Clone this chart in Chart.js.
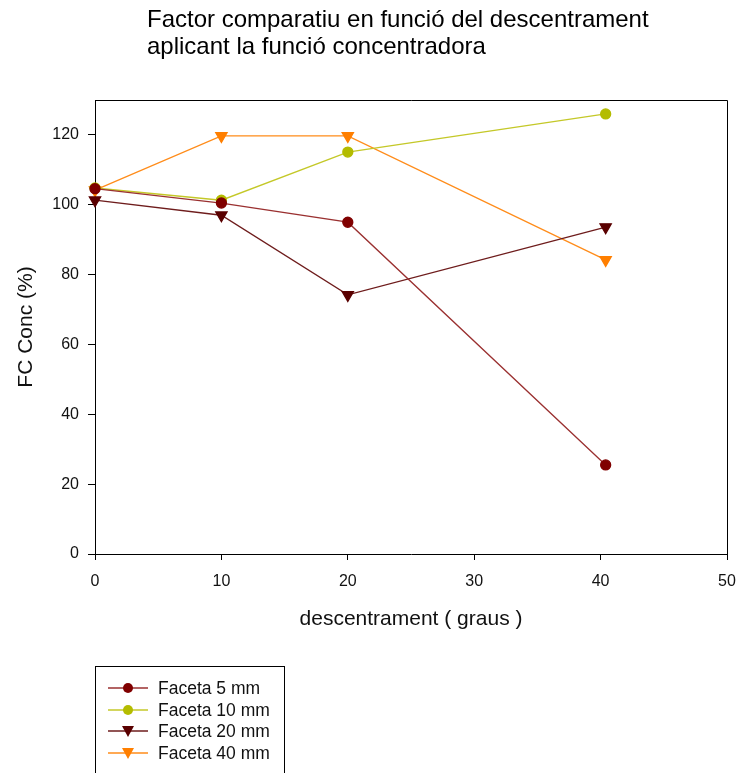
<!DOCTYPE html>
<html>
<head>
<meta charset="utf-8">
<script src="https://cdn.jsdelivr.net/npm/chart.js@4.4.1/dist/chart.umd.min.js"></script>
<style>
  html, body { margin: 0; padding: 0; background: #fff; }
  #wrap { position: relative; width: 737px; height: 773px; }
</style>
</head>
<body>
<div id="wrap"><canvas id="grafic"></canvas></div>
<script>
// dades llegides del gràfic
const graus = [0, 10, 20, 40.4];
const faceta5 = [104.6, 100.5, 95.0, 25.5];
const faceta10 = [104.8, 101.3, 115.1, 126.0];
const faceta20 = [101.3, 97.0, 74.2, 93.6];
const faceta40 = [104.2, 119.7, 119.7, 84.2];
const noms = ['Faceta 5 mm', 'Faceta 10 mm', 'Faceta 20 mm', 'Faceta 40 mm'];
const yTicks = [0, 20, 40, 60, 80, 100, 120];
const xTicks = [0, 10, 20, 30, 40, 50];

const titol = ['Factor comparatiu en funció del descentrament', 'aplicant la funció concentradora'];
const FONT = 'Arial, "Liberation Sans", sans-serif';

function punts(vals) {
  return vals.map((v, i) => ({ x: graus[i], y: v }));
}

function serie(label, vals, line, marker, style) {
  return {
    label: label,
    data: punts(vals),
    borderColor: line,
    backgroundColor: marker,
    pointBackgroundColor: marker,
    pointBorderColor: marker,
    borderWidth: 1.3,
    pointStyle: style,
    pointRotation: style === 'triangle' ? 180 : 0,
    pointRadius: style === 'triangle' ? 6.5 : 5,
    pointHoverRadius: 6,
    tension: 0,
    clip: false
  };
}

// titol, marc i llegenda dibuixats a mà
const extres = {
  id: 'extres',
  afterDraw(chart) {
    const ctx = chart.ctx;
    const a = chart.chartArea;
    ctx.save();
    // marc de l'area
    ctx.strokeStyle = '#000';
    ctx.lineWidth = 1;
    ctx.beginPath();
    ctx.moveTo(a.left, a.top + 0.5);
    ctx.lineTo(a.right + 0.5, a.top + 0.5);
    ctx.lineTo(a.right + 0.5, a.bottom);
    ctx.stroke();

    // titol
    ctx.fillStyle = '#000';
    ctx.font = '24px ' + FONT;
    ctx.textAlign = 'left';
    ctx.textBaseline = 'alphabetic';
    ctx.fillText(titol[0], 147, 27);
    ctx.fillText(titol[1], 147, 54);

    // llegenda
    ctx.strokeStyle = '#000';
    ctx.strokeRect(95.5, 666.5, 189, 140);
    const files = [688, 710, 731, 753];
    chart.data.datasets.forEach((ds, i) => {
      const y = files[i];
      ctx.strokeStyle = ds.borderColor;
      ctx.lineWidth = 1.3;
      ctx.beginPath();
      ctx.moveTo(108, y);
      ctx.lineTo(148, y);
      ctx.stroke();
      ctx.fillStyle = ds.pointBackgroundColor;
      ctx.beginPath();
      if (ds.pointStyle === 'triangle') {
        ctx.moveTo(122, y - 5);
        ctx.lineTo(134, y - 5);
        ctx.lineTo(128, y + 6);
        ctx.closePath();
      } else {
        ctx.arc(128, y, 5, 0, Math.PI * 2);
      }
      ctx.fill();
      ctx.fillStyle = '#111';
      ctx.font = '17.5px ' + FONT;
      ctx.textBaseline = 'middle';
      ctx.fillText(ds.label, 158, y + 1);
    });
    ctx.restore();
  }
};

new Chart(document.getElementById('grafic'), {
  type: 'line',
  data: {
    datasets: [
      serie(noms[0], faceta5, '#9a3030', '#800000', 'circle'),
      serie(noms[1], faceta10, '#c4c828', '#b4bc00', 'circle'),
      serie(noms[2], faceta20, '#6e1c1c', '#5a0000', 'triangle'),
      serie(noms[3], faceta40, '#ff8c1a', '#ff7f00', 'triangle')
    ]
  },
  options: {
    responsive: true,
    maintainAspectRatio: false,
    animation: false,
    layout: {
      padding: { top: 100, right: 0, bottom: 129, left: 0 }
    },
    plugins: {
      legend: { display: false },
      tooltip: { enabled: false },
      title: { display: false }
    },
    scales: {
      x: {
        type: 'linear',
        min: 0,
        max: 50,
        afterFit: (s) => { s.height = 90; s.paddingRight = 10; },
        afterBuildTicks: (s) => { s.ticks = xTicks.map(v => ({ value: v })); },
        ticks: {
          color: '#111',
          font: { family: FONT, size: 16 },
          padding: 12,
          maxRotation: 0
        },
        grid: {
          drawOnChartArea: false,
          drawTicks: true,
          tickLength: 6,
          color: '#000'
        },
        border: { display: true, color: '#000', width: 1 },
        title: {
          display: true,
          text: 'descentrament ( graus )',
          color: '#111',
          font: { family: FONT, size: 21 },
          padding: { top: 12, bottom: 12 }
        }
      },
      y: {
        type: 'linear',
        min: 0,
        max: 130,
        afterFit: (s) => { s.width = 95; },
        afterBuildTicks: (s) => { s.ticks = yTicks.map(v => ({ value: v })); },
        ticks: {
          color: '#111',
          font: { family: FONT, size: 16 },
          padding: 9
        },
        grid: {
          drawOnChartArea: false,
          drawTicks: true,
          tickLength: 7,
          color: '#000'
        },
        border: { display: true, color: '#000', width: 1 },
        title: {
          display: true,
          text: 'FC Conc (%)',
          color: '#111',
          font: { family: FONT, size: 21 },
          padding: { top: 14, bottom: 14 }
        }
      }
    }
  },
  plugins: [extres]
});
</script>
</body>
</html>
